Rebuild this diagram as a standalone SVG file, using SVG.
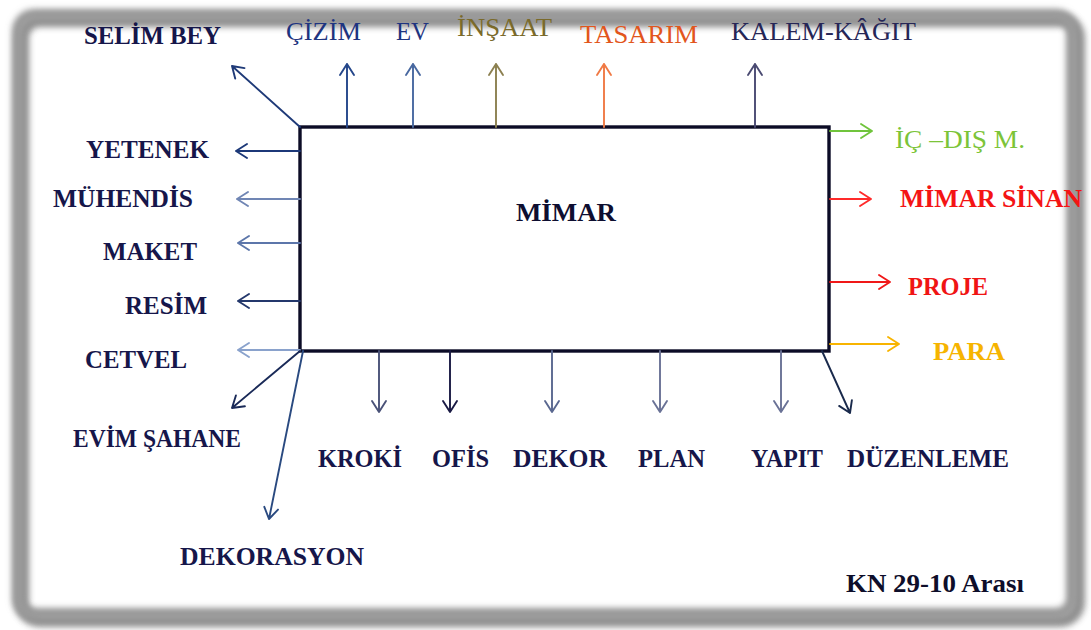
<svg xmlns="http://www.w3.org/2000/svg" width="1091" height="630" viewBox="0 0 1091 630">
<defs>
<filter id="blur" x="-5%" y="-5%" width="110%" height="110%"><feGaussianBlur stdDeviation="3.2"/></filter>
<style>
text{font-family:"Liberation Serif","Times New Roman",serif;font-size:25px;font-weight:bold;fill:#16164a}
text.n{font-weight:normal;font-size:26px}
.c path{fill:none;stroke-width:1.9;stroke-linecap:round;stroke-linejoin:round}
</style>
</defs>
<rect width="1091" height="630" fill="#ffffff"/>
<g id="frame">
<rect x="22" y="20" width="1056" height="600" rx="18" fill="none" stroke="#6a6a6a" stroke-width="14" filter="url(#blur)" opacity="0.75"/>
<rect x="18" y="15" width="1054" height="599" rx="16" fill="none" stroke="#9a9a9a" stroke-width="12" filter="url(#blur)"/>
</g>
<g id="node-mimar">
<rect x="300" y="127" width="529" height="224" fill="#fff" stroke="#0c0c26" stroke-width="3.4"/>
<text x="516" y="221" font-size="26" textLength="100" lengthAdjust="spacingAndGlyphs" style="fill:#0e0e30">MİMAR</text>
</g>
<g id="connectors" class="c">
<path d="M300 127L232 66M244.5 68.1L232 66L235.2 78.6" stroke="#1f3a78"/>
<path d="M347 127V64M340 75L347 64L354 75" stroke="#24468a"/>
<path d="M413 127V64M406 75L413 64L420 75" stroke="#4868a0"/>
<path d="M496 127V64M489 75L496 64L503 75" stroke="#8c8050"/>
<path d="M604 127V64M597 75L604 64L611 75" stroke="#f07a45"/>
<path d="M755 127V64M748 75L755 64L762 75" stroke="#4a4a72"/>
<path d="M300 151H236M247 144L236 151L247 158" stroke="#1c3878"/>
<path d="M300 199H237M248 192L237 199L248 206" stroke="#7086b4"/>
<path d="M300 243H238M249 236L238 243L249 250" stroke="#5c76aa"/>
<path d="M300 301H238M249 294L238 301L249 308" stroke="#24386c"/>
<path d="M300 350H238M249 343L238 350L249 357" stroke="#8aa2cc"/>
<path d="M300 351L232 408M244.9 406.3L232 408L235.9 395.5" stroke="#1a2a58"/>
<path d="M303 351L269 519M278 509.6L269 519L264.3 506.8" stroke="#2a4a80"/>
<path d="M379 351V412M372 401L379 412L386 401" stroke="#4a5278"/>
<path d="M450 351V412M443 401L450 412L457 401" stroke="#1a1a44"/>
<path d="M552 351V412M545 401L552 412L559 401" stroke="#5a6890"/>
<path d="M660 351V412M653 401L660 412L667 401" stroke="#6a7296"/>
<path d="M781 351V412M774 401L781 412L788 401" stroke="#6a7296"/>
<path d="M822 351L850 413M851.9 400.1L850 413L839.1 405.9" stroke="#1a2a4c"/>
<path d="M830 131H872M861 124L872 131L861 138" stroke="#70c43c"/>
<path d="M830 199H871M860 192L871 199L860 206" stroke="#ff2a2a"/>
<path d="M830 282H890M879 275L890 282L879 289" stroke="#f01818"/>
<path d="M830 344H899M888 337L899 344L888 351" stroke="#f8b400"/>
</g>
<g id="node-selim"><text x="84" y="44" textLength="137" lengthAdjust="spacingAndGlyphs">SELİM BEY</text></g>
<g id="node-cizim"><text class="n" x="286" y="40" textLength="75" lengthAdjust="spacingAndGlyphs" style="fill:#1e3480">ÇİZİM</text></g>
<g id="node-ev"><text class="n" x="396" y="40" textLength="33" lengthAdjust="spacingAndGlyphs" style="fill:#1e3480">EV</text></g>
<g id="node-insaat"><text class="n" x="457" y="36" textLength="95" lengthAdjust="spacingAndGlyphs" style="fill:#7a6a2a">İNŞAAT</text></g>
<g id="node-tasarim"><text class="n" x="580" y="43" textLength="118" lengthAdjust="spacingAndGlyphs" style="fill:#e2561c">TASARIM</text></g>
<g id="node-kalem"><text class="n" x="731" y="40" textLength="185" lengthAdjust="spacingAndGlyphs" style="fill:#262656">KALEM-KÂĞIT</text></g>
<g id="node-yetenek"><text x="86" y="158" textLength="123" lengthAdjust="spacingAndGlyphs">YETENEK</text></g>
<g id="node-muhendis"><text x="53" y="207" textLength="140" lengthAdjust="spacingAndGlyphs">MÜHENDİS</text></g>
<g id="node-maket"><text x="103" y="260" textLength="94" lengthAdjust="spacingAndGlyphs">MAKET</text></g>
<g id="node-resim"><text x="125" y="314" textLength="82" lengthAdjust="spacingAndGlyphs">RESİM</text></g>
<g id="node-cetvel"><text x="85" y="368" textLength="102" lengthAdjust="spacingAndGlyphs">CETVEL</text></g>
<g id="node-evim"><text x="73" y="447" textLength="168" lengthAdjust="spacingAndGlyphs">EVİM ŞAHANE</text></g>
<g id="node-dekorasyon"><text x="180" y="565" textLength="184" lengthAdjust="spacingAndGlyphs">DEKORASYON</text></g>
<g id="node-kroki"><text x="318" y="467" textLength="84" lengthAdjust="spacingAndGlyphs">KROKİ</text></g>
<g id="node-ofis"><text x="432" y="467" textLength="57" lengthAdjust="spacingAndGlyphs">OFİS</text></g>
<g id="node-dekor"><text x="513" y="467" textLength="94" lengthAdjust="spacingAndGlyphs">DEKOR</text></g>
<g id="node-plan"><text x="638" y="467" textLength="67" lengthAdjust="spacingAndGlyphs">PLAN</text></g>
<g id="node-yapit"><text x="751" y="467" textLength="72" lengthAdjust="spacingAndGlyphs">YAPIT</text></g>
<g id="node-duzenleme"><text x="847" y="467" textLength="162" lengthAdjust="spacingAndGlyphs">DÜZENLEME</text></g>
<g id="node-icdis"><text class="n" x="895" y="148" textLength="130" lengthAdjust="spacingAndGlyphs" style="fill:#7cc438">İÇ –DIŞ M.</text></g>
<g id="node-mimarsinan"><text x="900" y="207" textLength="182" lengthAdjust="spacingAndGlyphs" style="fill:#f41414">MİMAR SİNAN</text></g>
<g id="node-proje"><text x="908" y="295" textLength="80" lengthAdjust="spacingAndGlyphs" style="fill:#f01414">PROJE</text></g>
<g id="node-para"><text x="933" y="360" textLength="72" lengthAdjust="spacingAndGlyphs" style="fill:#f6b400">PARA</text></g>
<g id="caption"><text x="846" y="592" font-size="26" textLength="178" lengthAdjust="spacingAndGlyphs" style="fill:#0e0e2a">KN 29-10 Arası</text></g>
</svg>
